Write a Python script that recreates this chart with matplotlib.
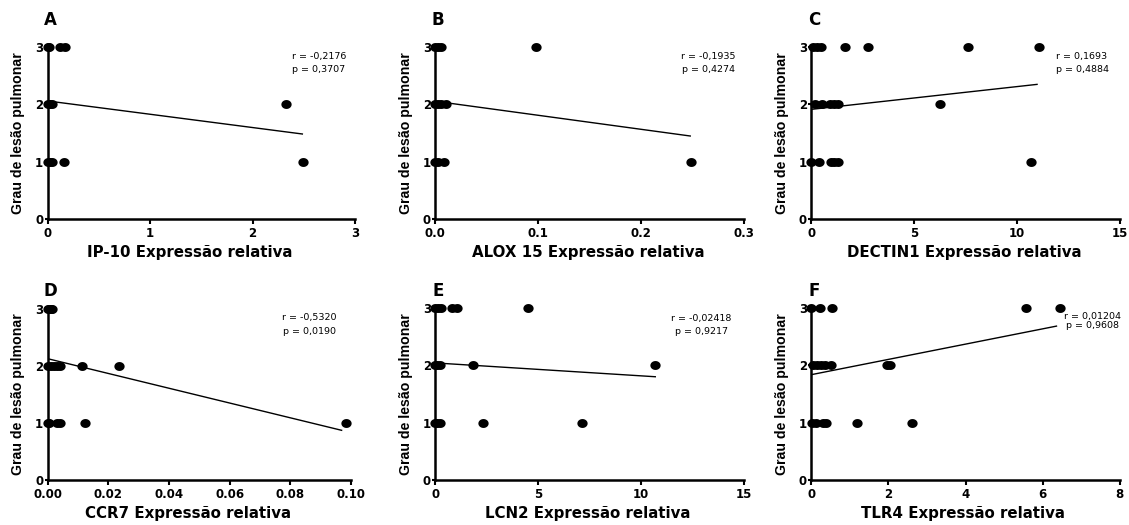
import matplotlib
matplotlib.use("Agg")
import matplotlib.pyplot as plt
from matplotlib.path import Path
import numpy as np

plt.rcParams['font.family'] = ['DejaVu Sans']

# ---------------- data ----------------
letters = ["A", "B", "C", "D", "E", "F"]
xlabels = ["IP-10 Expressão relativa", "ALOX 15 Expressão relativa",
           "DECTIN1 Expressão relativa", "CCR7 Expressão relativa",
           "LCN2 Expressão relativa", "TLR4 Expressão relativa"]
ylabel = "Grau de lesão pulmonar"

x_A = [0.0, 0.01, 0.12, 0.17, 0.0, 0.02, 0.04, 2.33, 0.0, 0.02, 0.04, 0.16, 2.49]
y_A = [3, 3, 3, 3, 2, 2, 2, 2, 1, 1, 1, 1, 1]
x_B = [0.0, 0.003, 0.006, 0.098, 0.0, 0.003, 0.006, 0.01, 0.0, 0.003, 0.008, 0.249]
y_B = [3, 3, 3, 3, 2, 2, 2, 2, 1, 1, 1, 1]
x_C = [0.1, 0.3, 0.45, 1.65, 2.74, 7.62, 11.06,
       0.2, 0.5, 0.9, 1.1, 1.3, 6.24,
       0.0, 0.39, 0.95, 1.1, 1.3, 10.7]
y_C = [3, 3, 3, 3, 3, 3, 3, 2, 2, 2, 2, 2, 2, 1, 1, 1, 1, 1, 1]
x_D = [0.0, 0.0005, 0.001, 0.0015,
       0.0, 0.001, 0.002, 0.003, 0.004, 0.0112, 0.0236,
       0.0, 0.0005, 0.003, 0.004, 0.0123, 0.0982]
y_D = [3, 3, 3, 3, 2, 2, 2, 2, 2, 2, 2, 1, 1, 1, 1, 1, 1]
x_E = [0.0, 0.15, 0.3, 0.8, 1.05, 4.52,
       0.0, 0.1, 0.25, 1.85, 10.7,
       0.0, 0.1, 0.25, 2.33, 7.12]
y_E = [3, 3, 3, 3, 3, 3, 2, 2, 2, 2, 2, 1, 1, 1, 1, 1]
x_F = [0.0, 0.23, 0.54, 5.58, 6.44,
       0.05, 0.15, 0.25, 0.35, 0.52, 1.97, 2.05,
       0.03, 0.12, 0.3, 0.38, 1.19, 2.61]
y_F = [3, 3, 3, 3, 3, 2, 2, 2, 2, 2, 2, 2, 1, 1, 1, 1, 1, 1]
xs = [x_A, x_B, x_C, x_D, x_E, x_F]
ys = [y_A, y_B, y_C, y_D, y_E, y_F]

# regression line end points
fit_x = [[0, 2.486], [0, 0.248], [0, 10.98], [0, 0.0969], [0, 10.7], [0, 6.36]]
fit_y = [[2.055, 1.48], [2.05, 1.445], [1.909, 2.344], [2.126, 0.874], [2.04, 1.80], [1.836, 2.68]]

r_vals = ["-0,2176", "-0,1935", "0,1693", "-0,5320", "-0,02418", "0,01204"]
p_vals = ["0,3707", "0,4274", "0,4884", "0,0190", "0,9217", "0,9608"]

xticks = [[0, 1, 2, 3], [0.0, 0.1, 0.2, 0.3], [0, 5, 10, 15],
          [0.00, 0.02, 0.04, 0.06, 0.08, 0.10], [0, 5, 10, 15], [0, 2, 4, 6, 8]]
xticklabels = [["0", "1", "2", "3"], ["0.0", "0.1", "0.2", "0.3"], ["0", "5", "10", "15"],
               ["0.00", "0.02", "0.04", "0.06", "0.08", "0.10"], ["0", "5", "10", "15"],
               ["0", "2", "4", "6", "8"]]
yticks = [0, 1, 2, 3]

# ---------------- layout ----------------
W, H = 1129, 525
fig = plt.figure(figsize=(W / 100, H / 100), dpi=100)

# slightly wide elliptical marker
theta = np.linspace(0, 2 * np.pi, 40)
ell = Path(np.column_stack([1.15 * np.cos(theta), np.sin(theta)]), closed=True)

# axes boxes in pixels: (left, right, top, bottom)
boxes = [(47.7, 355.0, 46.7, 219.0), (435.3, 743.7, 46.7, 219.0), (811.3, 1119.7, 46.7, 219.0),
         (47.7, 351.0, 308.7, 480.3), (435.3, 743.7, 307.7, 480.3), (811.3, 1119.7, 307.7, 480.3)]
xlabel_x = [0.461, 0.497, 0.495, 0.461, 0.494, 0.492]
# annotation centers in pixels (x, y_r, y_p)
ann = [(318.7, 56, 69), (708, 57, 70), (1082, 57, 70),
       (309.7, 317.7, 331), (701.3, 318, 331), (1093, 317, 326)]
letter_pos = [(50, 20), (438, 20), (814, 20), (50, 291), (438, 291), (814, 291)]

for i in range(6):
    l, r, t, b = boxes[i]
    ax = fig.add_axes([l / W, 1 - b / H, (r - l) / W, (b - t) / H])
    ax.set_xlim(xticks[i][0], xticks[i][-1])
    ax.set_ylim(0, 3)
    ax.plot(fit_x[i], fit_y[i], color='black', lw=1.0, zorder=2)
    ax.plot(xs[i], ys[i], linestyle='none', marker=ell, color='black', ms=7.4, mew=0,
            zorder=3, clip_on=False)
    for s in ['top', 'right']:
        ax.spines[s].set_visible(False)
    for s in ['left', 'bottom']:
        ax.spines[s].set_linewidth(1.8)
    ax.set_xticks(xticks[i])
    ax.set_xticklabels(xticklabels[i], fontsize=8.5, fontweight='bold')
    ax.set_yticks(yticks)
    ax.set_yticklabels([str(v) for v in yticks], fontsize=8.5, fontweight='bold')
    ax.tick_params(axis='x', direction='out', length=3.5, width=1.5, pad=2)
    ax.tick_params(axis='y', direction='out', length=2.2, width=1.5, pad=1)
    ax.set_xlabel(xlabels[i], fontsize=10.8, fontweight='bold', labelpad=4)
    ax.xaxis.label.set_x(xlabel_x[i])
    ax.set_ylabel(ylabel, family='Liberation Sans', fontsize=10.2, fontweight='bold', labelpad=7)
    ax.patch.set_alpha(0)

    ax_x, yr, yp = ann[i]
    fig.text(ax_x / W, 1 - yr / H, "r = " + r_vals[i], fontsize=6.8, ha='center', va='center')
    fig.text(ax_x / W, 1 - yp / H, "p = " + p_vals[i], fontsize=6.8, ha='center', va='center')
    lx, ly = letter_pos[i]
    fig.text(lx / W, 1 - ly / H, letters[i], fontsize=12, fontweight='bold', ha='center', va='center')

fig.savefig("out.png", dpi=100)
